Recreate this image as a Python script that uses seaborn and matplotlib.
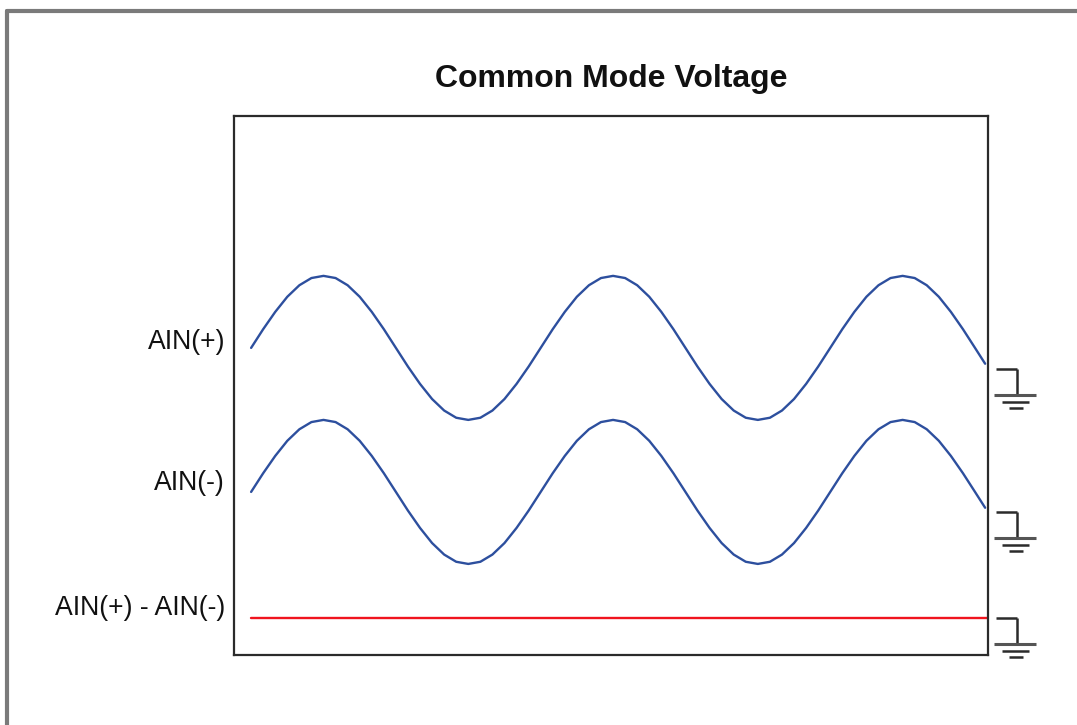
import numpy as np
import pandas as pd
import matplotlib
matplotlib.use("Agg")
import matplotlib.pyplot as plt
import seaborn as sns
from matplotlib.lines import Line2D

# time in periods of the common mode sine (1/24 period steps)
t = [0.0, 0.0417, 0.0833, 0.125, 0.1667, 0.2083, 0.25, 0.2917,
     0.3333, 0.375, 0.4167, 0.4583, 0.5, 0.5417, 0.5833, 0.625,
     0.6667, 0.7083, 0.75, 0.7917, 0.8333, 0.875, 0.9167, 0.9583,
     1.0, 1.0417, 1.0833, 1.125, 1.1667, 1.2083, 1.25, 1.2917,
     1.3333, 1.375, 1.4167, 1.4583, 1.5, 1.5417, 1.5833, 1.625,
     1.6667, 1.7083, 1.75, 1.7917, 1.8333, 1.875, 1.9167, 1.9583,
     2.0, 2.0417, 2.0833, 2.125, 2.1667, 2.2083, 2.25, 2.2917,
     2.3333, 2.375, 2.4167, 2.4583, 2.5, 2.535]

# AIN(+) (volts, amplitude ~1)
ain_pos = [3.75, 4.01, 4.25, 4.46, 4.62, 4.72, 4.75, 4.72,
           4.62, 4.46, 4.25, 4.01, 3.75, 3.49, 3.25, 3.04,
           2.88, 2.78, 2.75, 2.78, 2.88, 3.04, 3.25, 3.49,
           3.75, 4.01, 4.25, 4.46, 4.62, 4.72, 4.75, 4.72,
           4.62, 4.46, 4.25, 4.01, 3.75, 3.49, 3.25, 3.04,
           2.88, 2.78, 2.75, 2.78, 2.88, 3.04, 3.25, 3.49,
           3.75, 4.01, 4.25, 4.46, 4.62, 4.72, 4.75, 4.72,
           4.62, 4.46, 4.25, 4.01, 3.75, 3.53]

# AIN(-) has the same shape, two volts lower
ain_neg = [1.75, 2.01, 2.25, 2.46, 2.62, 2.72, 2.75, 2.72,
           2.62, 2.46, 2.25, 2.01, 1.75, 1.49, 1.25, 1.04,
           0.88, 0.78, 0.75, 0.78, 0.88, 1.04, 1.25, 1.49,
           1.75, 2.01, 2.25, 2.46, 2.62, 2.72, 2.75, 2.72,
           2.62, 2.46, 2.25, 2.01, 1.75, 1.49, 1.25, 1.04,
           0.88, 0.78, 0.75, 0.78, 0.88, 1.04, 1.25, 1.49,
           1.75, 2.01, 2.25, 2.46, 2.62, 2.72, 2.75, 2.72,
           2.62, 2.46, 2.25, 2.01, 1.75, 1.53]

# difference signal is flat
diff_t = [0.0, 2.545]
diff_v = [0.0, 0.0]

labels = ["AIN(+)", "AIN(-)", "AIN(+) - AIN(-)"]
label_y = [3.83, 1.875, 0.14]
ground_y = [3.46, 1.47, 0.0]

df_pos = pd.DataFrame({"t": t, "v": ain_pos})
df_neg = pd.DataFrame({"t": t, "v": ain_neg})
df_diff = pd.DataFrame({"t": diff_t, "v": diff_v})

sns.set_theme(style="white")
plt.rcParams['font.family'] = ['Liberation Sans', 'DejaVu Sans']

fig = plt.figure(figsize=(10.77, 7.25), dpi=100)
ax = fig.add_axes([0.2173, 0.0966, 0.7001, 0.7434])

blue = "#2d4f9e"
sns.lineplot(x="t", y="v", data=df_pos, ax=ax, color=blue, linewidth=1.7)
sns.lineplot(x="t", y="v", data=df_neg, ax=ax, color=blue, linewidth=1.7)
sns.lineplot(x="t", y="v", data=df_diff, ax=ax, color="#f0141e", linewidth=1.7)

ax.set_xlim(-0.059, 2.545)
ax.set_ylim(-0.514, 6.97)
ax.set_xticks([])
ax.set_yticks([])
ax.set_xlabel("")
ax.set_ylabel("")
for s in ax.spines.values():
    s.set_visible(True)
    s.set_color("#2b2b2b")
    s.set_linewidth(1.6)

ax.set_title("Common Mode Voltage", fontsize=23, fontweight="bold",
             color="#111111", pad=21)

# signal labels on the left
for lab, y in zip(labels, label_y):
    ax.text(-0.09, y, lab, ha="right", va="center", fontsize=19.2,
            color="#111111", clip_on=False)

# ground symbols on the right
def ground(y0):
    kw = dict(color="#2b2b2b", linewidth=1.8, clip_on=False,
              solid_capstyle="butt")
    ax.plot([2.572, 2.645], [y0, y0], **kw)
    ax.plot([2.645, 2.645], [y0, y0 - 0.361], **kw)
    ax.plot([2.566, 2.710], [y0 - 0.361, y0 - 0.361], color="#555555",
            linewidth=2.2, clip_on=False, solid_capstyle="butt")
    ax.plot([2.593, 2.686], [y0 - 0.458, y0 - 0.458], **kw)
    ax.plot([2.617, 2.666], [y0 - 0.542, y0 - 0.542], **kw)

for gy in ground_y:
    ground(gy)

# outer frame (top and left only, the rest is cut off)
fig.add_artist(Line2D([0.0065, 1.0], [0.9848, 0.9848], color="#7a7a7a",
                      linewidth=3, transform=fig.transFigure))
fig.add_artist(Line2D([0.0065, 0.0065], [0.0, 0.9848], color="#7a7a7a",
                      linewidth=3, transform=fig.transFigure))

plt.savefig("out.png", dpi=100)
